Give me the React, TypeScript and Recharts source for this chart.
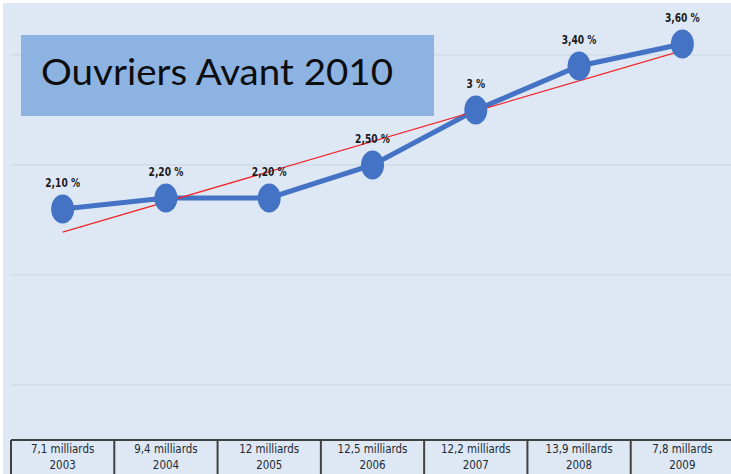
import React from 'react';
import { LineChart, Line, XAxis, YAxis, ReferenceLine, LabelList } from 'recharts';

// ---- data ----
const years = ['2003', '2004', '2005', '2006', '2007', '2008', '2009'];
const amounts = ['7,1 milliards', '9,4 milliards', '12 milliards', '12,5 milliards', '12,2 milliards', '13,9 millards', '7,8 millards'];
const rates = [2.1, 2.2, 2.2, 2.5, 3.0, 3.4, 3.6];
const rateLabels = ['2,10 %', '2,20 %', '2,20 %', '2,50 %', '3 %', '3,40 %', '3,60 %'];
// trend line (only its two ends)
const trend = [1.89, null, null, null, null, null, 3.54];
const gridValues = [0.5, 1.5, 2.5, 3.5];
const titleText = 'Ouvriers Avant 2010';

const data = years.map((y, i) => ({
  year: y,
  amount: amounts[i],
  value: rates[i],
  label: rateLabels[i],
  trend: trend[i],
}));

// ---- layout ----
const W = 731;
const H = 474;
const CHART_W = 750;
const M_LEFT = 11;
const M_RIGHT = 16;
const PLOT_W = CHART_W - M_LEFT - M_RIGHT;
const HALF_BAND = PLOT_W / years.length / 2;
const NARROW = "'DejaVu Sans Condensed', 'Liberation Sans Narrow', sans-serif";

const Dot = (props: any) => {
  const { cx, cy, index } = props;
  if (cx == null || cy == null) return <g key={`d${index}`} />;
  return <ellipse key={`d${index}`} cx={cx} cy={cy} rx={11.5} ry={14.5} fill="#4472c4" />;
};

const Tick = (props: any) => {
  const { x, y, index } = props;
  return (
    <g>
      <line x1={x - HALF_BAND} x2={x - HALF_BAND} y1={y} y2={y + 40} stroke="#404040" strokeWidth={2} />
      <text transform={`translate(${x},${y + 13}) scale(0.88,1)`} textAnchor="middle" fontFamily={NARROW} fontSize={13} fill="#222a33">
        {amounts[index]}
      </text>
      <text transform={`translate(${x},${y + 29}) scale(0.88,1)`} textAnchor="middle" fontFamily={NARROW} fontSize={13} fill="#222a33">
        {years[index]}
      </text>
    </g>
  );
};

const ValueLabel = (props: any) => {
  const { x, y, value } = props;
  return (
    <text
      transform={`translate(${x},${y - 22}) scale(0.78,1)`}
      textAnchor="middle"
      fontFamily={NARROW}
      fontWeight="bold"
      fontSize={13}
      fill="#1a1a1a"
    >
      {value}
    </text>
  );
};

export default function App() {
  return (
    <div style={{ position: 'absolute', left: 0, top: 0, width: W, height: H, overflow: 'hidden', background: '#ffffff' }}>
      <div style={{ position: 'absolute', left: 3, top: 3, right: 0, bottom: 0, background: '#dee8f4' }} />
      <div style={{ position: 'absolute', left: 0, top: 0 }}>
        <LineChart width={CHART_W} height={H} data={data} margin={{ top: 0, right: M_RIGHT, left: M_LEFT, bottom: 0 }}>
          <XAxis
            dataKey="year"
            scale="band"
            height={34}
            tickSize={0}
            tickMargin={0}
            tickLine={false}
            axisLine={{ stroke: '#404040', strokeWidth: 2 }}
            tick={<Tick />}
            interval={0}
          />
          <YAxis hide domain={[0, 4]} type="number" />
          {gridValues.map((g) => (
            <ReferenceLine key={g} y={g} stroke="#c9d5e3" strokeWidth={1} ifOverflow="extendDomain" />
          ))}
          <Line
            dataKey="value"
            stroke="#4472c4"
            strokeWidth={5}
            dot={<Dot />}
            activeDot={false}
            isAnimationActive={false}
          />
          <Line
            dataKey="trend"
            stroke="#f0282d"
            strokeWidth={1.3}
            dot={false}
            activeDot={false}
            connectNulls
            isAnimationActive={false}
          />
          <Line dataKey="value" stroke="none" dot={false} activeDot={false} isAnimationActive={false}>
            <LabelList dataKey="label" content={<ValueLabel />} />
          </Line>
        </LineChart>
      </div>
      <svg style={{ position: 'absolute', left: 0, top: 0 }} width={W} height={H} pointerEvents="none">
        <rect x={21} y={35} width={413} height={81} fill="#8db3e2" />
        <text
          x={41}
          y={85}
          fontFamily="Lato, 'Open Sans', sans-serif"
          fontSize={37}
          fill="#0d0d0d"
          textLength={352}
          lengthAdjust="spacingAndGlyphs"
        >
          {titleText}
        </text>
      </svg>
    </div>
  );
}
